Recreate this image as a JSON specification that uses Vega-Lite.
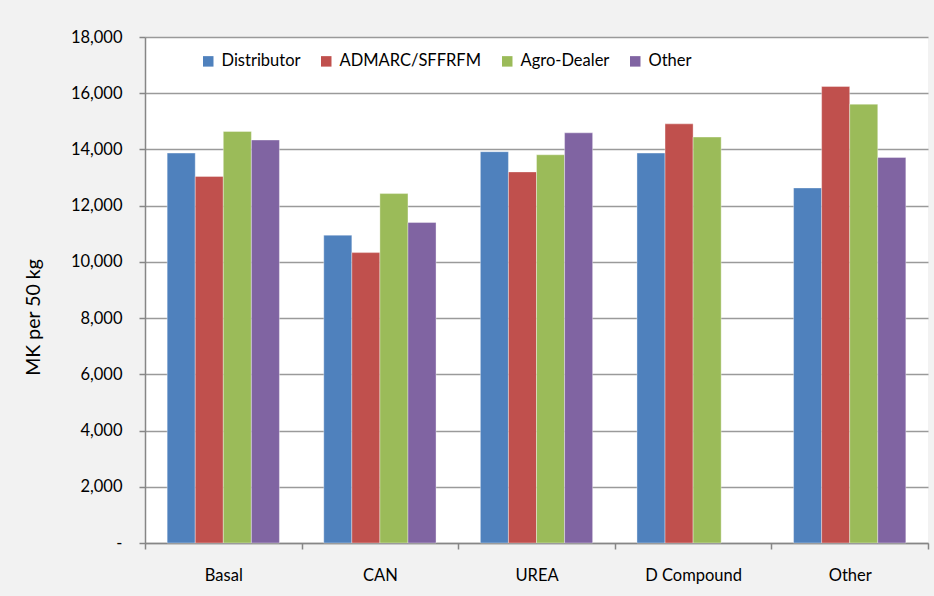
{
  "$schema": "https://vega.github.io/schema/vega-lite/v6.json",
  "width": 783,
  "height": 506,
  "autosize": {"type": "none"},
  "padding": {"left": 145, "top": 37, "right": 6, "bottom": 53},
  "background": "#f2f2f2",
  "config": {"view": {"fill": "white", "stroke": null}, "font": "Lato"},
  "data": {
    "values": [
      {"fertilizer": "Basal", "source": "Distributor", "price": 13870},
      {"fertilizer": "Basal", "source": "ADMARC/SFFRFM", "price": 13040},
      {"fertilizer": "Basal", "source": "Agro-Dealer", "price": 14640},
      {"fertilizer": "Basal", "source": "Other", "price": 14335},
      {"fertilizer": "CAN", "source": "Distributor", "price": 10950},
      {"fertilizer": "CAN", "source": "ADMARC/SFFRFM", "price": 10330},
      {"fertilizer": "CAN", "source": "Agro-Dealer", "price": 12430},
      {"fertilizer": "CAN", "source": "Other", "price": 11400},
      {"fertilizer": "UREA", "source": "Distributor", "price": 13920},
      {"fertilizer": "UREA", "source": "ADMARC/SFFRFM", "price": 13200},
      {"fertilizer": "UREA", "source": "Agro-Dealer", "price": 13810},
      {"fertilizer": "UREA", "source": "Other", "price": 14590},
      {"fertilizer": "D Compound", "source": "Distributor", "price": 13870},
      {"fertilizer": "D Compound", "source": "ADMARC/SFFRFM", "price": 14910},
      {"fertilizer": "D Compound", "source": "Agro-Dealer", "price": 14440},
      {"fertilizer": "Other", "source": "Distributor", "price": 12630},
      {"fertilizer": "Other", "source": "ADMARC/SFFRFM", "price": 16240},
      {"fertilizer": "Other", "source": "Agro-Dealer", "price": 15610},
      {"fertilizer": "Other", "source": "Other", "price": 13715}
    ]
  },
  "mark": {"type": "bar", "stroke": "white", "strokeWidth": 0.6, "strokeOpacity": 0.6},
  "encoding": {
    "x": {
      "field": "fertilizer",
      "type": "nominal",
      "sort": ["Basal", "CAN", "UREA", "D Compound", "Other"],
      "scale": {"paddingInner": 0, "paddingOuter": 0},
      "axis": {
        "title": null,
        "labelAngle": 0,
        "tickBand": "extent",
        "domainColor": "#868686",
        "domainWidth": 1.5,
        "tickColor": "#868686",
        "tickWidth": 1.5,
        "tickSize": 6,
        "labelFontSize": 16.5,
        "labelColor": "black",
        "labelPadding": 18
      }
    },
    "xOffset": {
      "field": "source",
      "sort": ["Distributor", "ADMARC/SFFRFM", "Agro-Dealer", "Other"],
      "scale": {"paddingOuter": 0.79, "paddingInner": 0}
    },
    "y": {
      "field": "price",
      "type": "quantitative",
      "scale": {"domain": [0, 18000]},
      "axis": {
        "title": "MK per 50 kg",
        "titleFontSize": 19.5,
        "titleFontWeight": "normal",
        "titleColor": "black",
        "titleX": -112,
        "titleY": 280,
        "titleAlign": "center",
        "titleBaseline": "middle",
        "titleAngle": -90,
        "values": [0, 2000, 4000, 6000, 8000, 10000, 12000, 14000, 16000, 18000],
        "labelExpr": "datum.value == 0 ? '-\u00a0\u00a0\u00a0' : format(datum.value, ',')",
        "labelFontSize": 16.5,
        "labelColor": "black",
        "labelPadding": 17,
        "domainColor": "#868686",
        "domainWidth": 1.5,
        "tickColor": "#868686",
        "tickWidth": 1.5,
        "tickSize": 6,
        "gridColor": "#9a9a9a",
        "gridWidth": 1.3
      }
    },
    "color": {
      "field": "source",
      "type": "nominal",
      "sort": ["Distributor", "ADMARC/SFFRFM", "Agro-Dealer", "Other"],
      "scale": {
        "domain": ["Distributor", "ADMARC/SFFRFM", "Agro-Dealer", "Other"],
        "range": ["#4f81bd", "#c0504d", "#9bbb59", "#8064a2"]
      },
      "legend": {
        "title": null,
        "orient": "none",
        "legendX": 55,
        "legendY": 16,
        "direction": "horizontal",
        "columnPadding": 17,
        "symbolType": "square",
        "symbolSize": 110,
        "symbolStrokeWidth": 0,
        "labelFontSize": 16.5,
        "labelColor": "black",
        "labelOffset": 5,
        "padding": 0
      }
    }
  }
}
